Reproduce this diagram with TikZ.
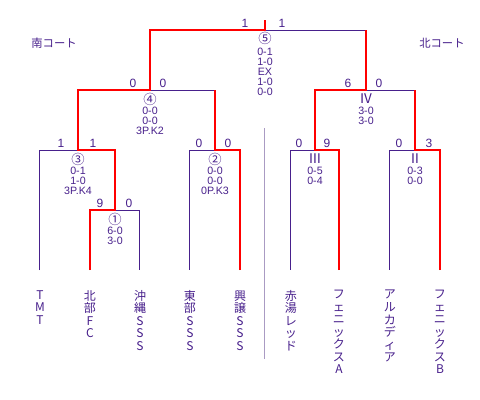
\documentclass[tikz,border=0pt]{standalone}
\usepackage{fontspec}
\setmainfont{Liberation Sans}
\newfontfamily\jp{Noto Sans CJK JP}
\definecolor{pur}{RGB}{72,32,140}
\definecolor{winred}{RGB}{255,0,0}
\definecolor{divc}{RGB}{170,155,195}
\begin{document}
\begin{tikzpicture}[x=0.75pt,y=-0.75pt,
  lose/.style={draw=pur, line width=0.75pt},
  winline/.style={draw=winred, line width=1.5pt, line join=miter},
  score/.style={text=pur, font=\fontsize{9}{9}\selectfont, inner sep=0},
  res/.style={text=pur, font=\fontsize{8}{7.5}\selectfont, align=center, inner sep=0, anchor=north},
  mno/.style={text=pur, font=\jp\fontsize{10}{10}\selectfont, inner sep=0},
  team/.style={text=pur, font=\jp\fontsize{9}{9.4}\selectfont, align=center, inner sep=0, anchor=north},
  court/.style={text=pur, font=\jp\fontsize{8.5}{8.5}\selectfont, inner sep=0}]
\useasboundingbox (0,0) rectangle (480,400);
\fill[white] (0,0) rectangle (480,400);

% leaf tops
\coordinate (t1) at (40,270);
\coordinate (t2) at (90,270);
\coordinate (t3) at (140,270);
\coordinate (t4) at (190,270);
\coordinate (t5) at (240,270);
\coordinate (t6) at (291,270);
\coordinate (t7) at (339,270);
\coordinate (t8) at (390,270);
\coordinate (t9) at (440,270);
% match split points
\coordinate (s1) at (115,210);
\coordinate (s3) at (78,150);
\coordinate (s2) at (215,150);
\coordinate (s4) at (150,90);
\coordinate (s5) at (265,30);
\coordinate (sIII) at (315,150);
\coordinate (sII) at (415,150);
\coordinate (sIV) at (366,90);
\coordinate (champ) at (265,20);

% court divider
\coordinate (dtop) at (265,128);
\coordinate (dbot) at (265,359);
\draw[draw=divc, line width=0.75pt] (dtop) -- (dbot);

% losing lines
\draw[lose] (t1) |- (s3);
\draw[lose] (s1) -| (t3);
\draw[lose] (s2) -| (t4);
\draw[lose] (s4) -- (s4 -| s2);
\draw[lose] (s5) -- (s5 -| sIV);
\draw[lose] (sIV) -- (sIV -| sII);
\draw[lose] (sIII) -| (t6);
\draw[lose] (sII) -| (t8);

% winning lines
\draw[winline] (t2) |- (s1) -- (s1 |- s3) -- (s3) -- (s3 |- s4) -- (s4) -- (s4 |- s5) -- (s5) -- (champ);
\draw[winline] (t5) |- (s2) -- (s2 |- s4);
\draw[winline] (t7) |- (sIII) -- (sIII |- sIV) -- (sIV) -- (sIV |- s5);
\draw[winline] (t9) |- (sII) -- (sII |- sIV);

% scores
\node[score] (a5l) at (245,23) {1};
\node[score] (a5r) at (282,23) {1};
\node[score] (a4l) at (133,83) {0};
\node[score] (a4r) at (163,83) {0};
\node[score] (aIVl) at (348,83) {6};
\node[score] (aIVr) at (379,83) {0};
\node[score] (a3l) at (61,143) {1};
\node[score] (a3r) at (93,143) {1};
\node[score] (a2l) at (199,143) {0};
\node[score] (a2r) at (228,143) {0};
\node[score] (aIIIl) at (299,143) {0};
\node[score] (aIIIr) at (327,143) {9};
\node[score] (aIIl) at (399,143) {0};
\node[score] (aIIr) at (429,143) {3};
\node[score] (a1l) at (100,203) {9};
\node[score] (a1r) at (129,203) {0};

% match numbers and results
\node[mno] (m5) at (265,38) {⑤};
\node[res] (r5) at (265,48.2) {0-1\\1-0\\EX\\1-0\\0-0};
\node[mno] (m4) at (150,99) {④};
\node[res] (r4) at (150,107.2) {0-0\\0-0\\3P.K2};
\node[mno] (mIV) at (366,99) {Ⅳ};
\node[res] (rIV) at (366,107.2) {3-0\\3-0};
\node[mno] (m3) at (78,159) {③};
\node[res] (r3) at (78,167.2) {0-1\\1-0\\3P.K4};
\node[mno] (m2) at (215,159) {②};
\node[res] (r2) at (215,167.2) {0-0\\0-0\\0P.K3};
\node[mno] (mIII) at (315,159) {Ⅲ};
\node[res] (rIII) at (315,167.2) {0-5\\0-4};
\node[mno] (mII) at (415,159) {Ⅱ};
\node[res] (rII) at (415,167.2) {0-3\\0-0};
\node[mno] (m1) at (115,219) {①};
\node[res] (r1) at (115,227.2) {6-0\\3-0};

% courts
\node[court] (cs) at (54,43) {南コート};
\node[court] (cn) at (442,43) {北コート};

% teams
\node[team] (n1) at (40,290) {T\\M\\T};
\node[team] (n2) at (90,290) {北\\部\\F\\C};
\node[team] (n3) at (140,290) {沖\\縄\\S\\S\\S};
\node[team] (n4) at (190,290) {東\\部\\S\\S\\S};
\node[team] (n5) at (240,290) {興\\譲\\S\\S\\S};
\node[team] (n6) at (291,290) {赤\\湯\\レ\\ッ\\ド};
\node[team] (n7) at (339,290) {フ\\ェ\\ニ\\ッ\\ク\\ス\\A};
\node[team] (n8) at (390,290) {ア\\ル\\カ\\デ\\ィ\\ア};
\node[team] (n9) at (440,290) {フ\\ェ\\ニ\\ッ\\ク\\ス\\B};
\end{tikzpicture}
\end{document}
